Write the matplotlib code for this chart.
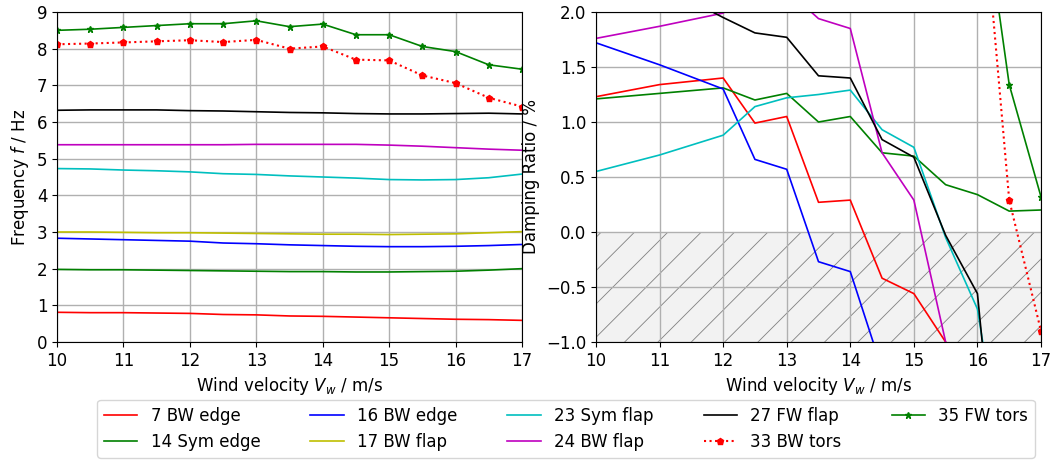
import matplotlib
matplotlib.use('Agg')
import matplotlib.pyplot as plt
import numpy as np
plt.rcParams['hatch.linewidth'] = 0.6
plt.rcParams['hatch.color'] = '#808080'

v = [10,10.5,11,11.5,12,12.5,13,13.5,14,14.5,15,15.5,16,16.5,17]
f7  = [0.81,0.80,0.80,0.79,0.78,0.75,0.74,0.71,0.70,0.68,0.66,0.64,0.62,0.61,0.59]
f14 = [1.98,1.97,1.97,1.96,1.95,1.94,1.93,1.92,1.92,1.91,1.91,1.92,1.93,1.96,2.00]
f16 = [2.83,2.81,2.79,2.77,2.75,2.70,2.68,2.65,2.63,2.61,2.60,2.60,2.61,2.63,2.66]
f17 = [3.00,3.00,2.99,2.98,2.98,2.97,2.96,2.95,2.94,2.94,2.93,2.94,2.95,2.98,3.01]
f23 = [4.73,4.72,4.69,4.67,4.64,4.59,4.57,4.53,4.50,4.47,4.43,4.42,4.43,4.48,4.58]
f24 = [5.38,5.38,5.38,5.38,5.38,5.38,5.39,5.39,5.39,5.39,5.37,5.34,5.30,5.26,5.23]
f27 = [6.32,6.33,6.33,6.33,6.31,6.30,6.28,6.26,6.25,6.23,6.22,6.22,6.23,6.24,6.22]
f33 = [8.12,8.14,8.17,8.20,8.23,8.18,8.24,8.00,8.06,7.70,7.68,7.27,7.06,6.66,6.42]
f35 = [8.50,8.53,8.58,8.63,8.68,8.68,8.76,8.60,8.67,8.38,8.38,8.06,7.92,7.56,7.44]

vd = [10,11,12,12.5,13,13.5,14,14.5,15,15.5,16,16.5,17]
d7  = [1.23,1.34,1.40,0.99,1.05,0.27,0.29,-0.42,-0.56,-1.00,-1.6,-2.2,-2.8]
d16 = [1.72,1.52,1.30,0.66,0.57,-0.27,-0.36,-1.25,-2.0,-2.6,-3.0,-3.5,-4.0]
d14 = [1.21,1.26,1.31,1.20,1.26,1.00,1.05,0.72,0.69,0.43,0.34,0.19,0.20]
d23 = [0.55,0.70,0.88,1.14,1.22,1.25,1.29,0.93,0.77,-0.05,-0.70,-2.5,-3.0]
d27 = [2.45,2.25,1.95,1.81,1.77,1.42,1.40,0.84,0.68,-0.03,-0.56,-3.5,-4.0]
d24 = [1.76,1.87,1.99,2.20,2.20,1.94,1.85,0.72,0.29,-1.00,-2.5,-3.5,-4.0]
vt = [16,16.5,17]
d33 = [3.6,0.29,-0.90]
d35 = [3.4,1.34,0.32]

W, H = 1058, 466
fig = plt.figure(figsize=(10.58,4.66),dpi=100)
ax0 = fig.add_axes([57/W, 124/H, 465/W, 330/H])
ax1 = fig.add_axes([596/W, 124/H, 445/W, 330/H])
axs = [ax0, ax1]
styles = [('7 BW edge','r',f7,d7,vd),('14 Sym edge','g',f14,d14,vd),('16 BW edge','b',f16,d16,vd),
          ('17 BW flap','y',f17,None,vd),('23 Sym flap','c',f23,d23,vd),('24 BW flap','m',f24,d24,vd),
          ('27 FW flap','k',f27,d27,vd)]
for lab,c,f,d,x in styles:
    axs[0].plot(v,f,color=c,lw=1.2,label=lab)
    if d is not None:
        axs[1].plot(x,d,color=c,lw=1.2)
axs[0].plot(v,f33,color='r',ls=':',marker='p',ms=5,lw=1.5,label='33 BW tors')
axs[0].plot(v,f35,color='g',marker='*',ms=5,lw=1.2,label='35 FW tors')
axs[1].plot(vt,d33,color='r',ls=':',marker='p',ms=5,lw=1.5)
axs[1].plot(vt,d35,color='g',marker='*',ms=5,lw=1.2)

axs[0].set_ylim(0,9); axs[0].set_xlim(10,17)
axs[0].set_ylabel('Frequency $f$ / Hz',fontsize=12)
axs[1].set_ylim(-1,2); axs[1].set_xlim(10,17)
axs[1].set_ylabel('Damping Ratio / %',fontsize=12)
axs[1].fill_between([10,17],-1,0,facecolor='#f2f2f2',hatch='/',lw=0,zorder=0)
axs[1].set_yticks(np.arange(-1,2.01,0.5))
for a in axs:
    a.grid(True,color='#b0b0b0',lw=1)
    a.set_axisbelow(True)
    a.set_xlabel('Wind velocity $V_w$ / m/s',fontsize=12)
    a.tick_params(labelsize=12)
h,l = axs[0].get_legend_handles_labels()
fig.legend(h,l,loc='lower center',ncol=5,fontsize=12,bbox_to_anchor=(0.535,0.0),frameon=True,columnspacing=3.0)
fig.savefig('out.png')
